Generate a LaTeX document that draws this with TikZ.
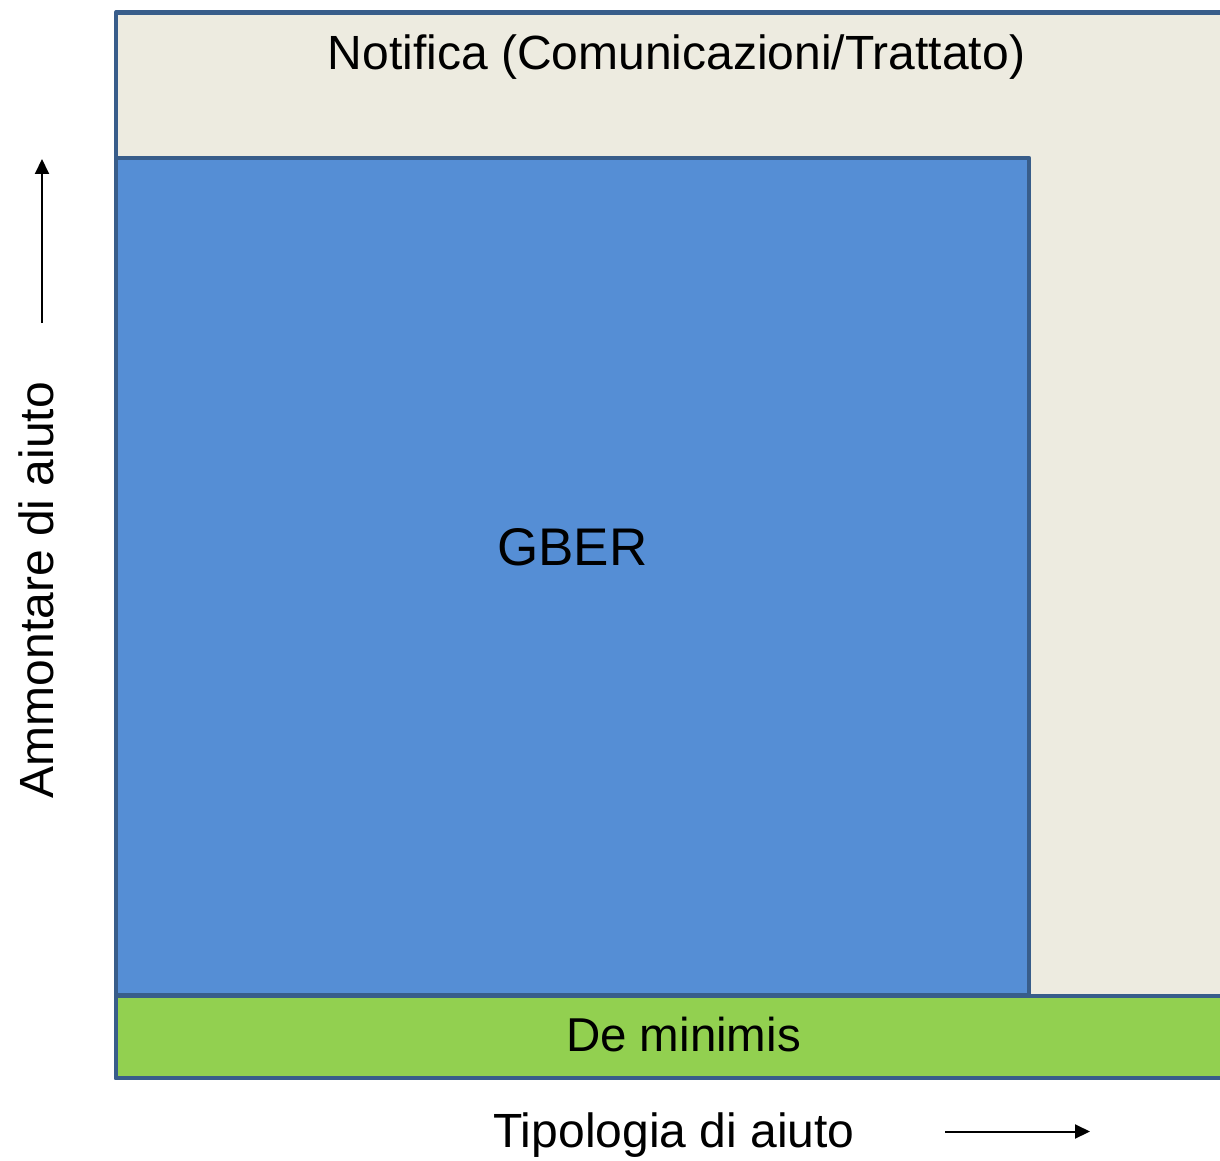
\documentclass[tikz,border=0pt]{standalone}
\usepackage{fontspec}
\setmainfont{Liberation Sans}
\usetikzlibrary{arrows.meta}
\definecolor{beige}{HTML}{EDEBE0}
\definecolor{gblue}{HTML}{558ED5}
\definecolor{dgreen}{HTML}{92D050}
\definecolor{edge}{HTML}{385D8A}
\tikzset{
  box/.style={draw=edge, line width=4.8pt, line join=round},
  lbl/.style={anchor=base, inner sep=0pt, font=\fontsize{48}{57}\selectfont},
  axarrow/.style={line width=2pt, -{Triangle[length=15pt,width=14pt]}}
}
\begin{document}
\begin{tikzpicture}[x=1pt,y=-1pt]
\useasboundingbox (0,0) rectangle (1220,1161);
\begin{scope}
\clip (0,0) rectangle (1220,1161);
\draw[box, fill=beige] (116,12.5) rectangle (1240,1078);
\draw[box, fill=dgreen] (116,996) rectangle (1240,1078);
\draw[box, fill=gblue] (116,158) rectangle (1029,995);
\end{scope}
\node[lbl] (notifica) at (676.5,69.3) {Notifica (Comunicazioni/Trattato)};
\node[lbl, font=\fontsize{53}{63}\selectfont] (gber) at (572.5,565) {GBER};
\node[lbl, font=\fontsize{47.5}{57}\selectfont] (deminimis) at (683.5,1051.7) {De minimis};
\node[lbl] (tipologia) at (674,1147.5) {Tipologia di aiuto};
\node[lbl, rotate=90] (ammontare) at (53,590) {Ammontare di aiuto};
\coordinate (hs) at (945,1131.5);
\coordinate (he) at (1090,1131.5);
\coordinate (vs) at (42,323);
\coordinate (ve) at (42,159);
\draw[axarrow] (hs) -- (he);
\draw[axarrow] (vs) -- (ve);
\end{tikzpicture}
\end{document}
